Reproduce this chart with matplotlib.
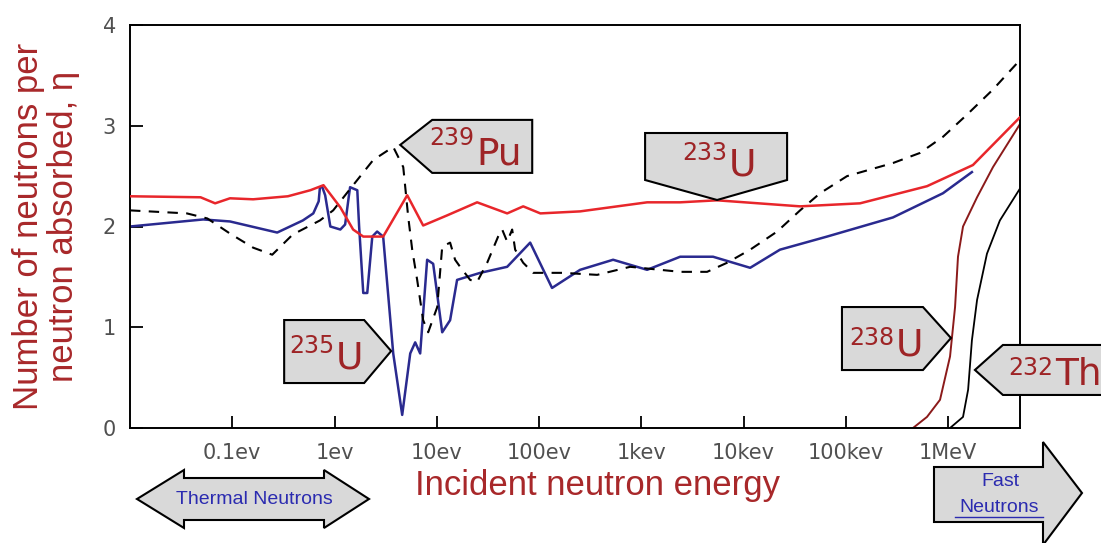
import matplotlib
matplotlib.use('Agg')
import matplotlib.pyplot as plt
from matplotlib.patches import Polygon
from matplotlib.lines import Line2D
from matplotlib.ticker import NullLocator

# energies in eV, eta = neutrons emitted per neutron absorbed
u233_e = [0.01, 0.049, 0.068, 0.095, 0.16, 0.35, 0.58, 0.78, 1.14, 1.52, 1.91, 2.99,
          5.14, 7.36, 12.6, 24.8, 48.8, 70, 103, 252, 1140, 2400, 5500, 35700,
          137700, 622000, 1.75e6, 5.0e6]
u233_eta = [2.30, 2.29, 2.23, 2.28, 2.27, 2.30, 2.36, 2.41, 2.19, 1.97, 1.90, 1.90,
            2.31, 2.01, 2.11, 2.24, 2.13, 2.20, 2.13, 2.15, 2.24, 2.24, 2.26, 2.20,
            2.23, 2.40, 2.61, 3.08]

u235_e = [0.01, 0.052, 0.095, 0.275, 0.49, 0.62, 0.70, 0.72, 0.76, 0.81, 0.91, 1.14,
          1.27, 1.38, 1.42, 1.67, 1.74, 1.91, 2.09, 2.34, 2.61, 2.99, 3.75, 4.59,
          5.50, 6.15, 6.88, 8.05, 9.22, 11.3, 13.5, 15.8, 26.6, 48.8, 81.9, 134,
          252, 530, 1140, 2400, 5030, 11600, 22700, 65500, 289000, 891000, 1.71e6]
u235_eta = [2.00, 2.07, 2.05, 1.94, 2.06, 2.13, 2.25, 2.39, 2.39, 2.31, 2.00, 1.97,
            2.02, 2.30, 2.39, 2.36, 2.00, 1.34, 1.34, 1.90, 1.95, 1.90, 0.74, 0.13,
            0.74, 0.85, 0.74, 1.67, 1.63, 0.95, 1.07, 1.47, 1.54, 1.60, 1.84, 1.39,
            1.57, 1.67, 1.57, 1.70, 1.70, 1.59, 1.77, 1.90, 2.09, 2.33, 2.54]

pu239_e = [0.01, 0.036, 0.057, 0.095, 0.16, 0.246, 0.39, 0.72, 0.97, 1.52, 2.39, 3.75,
           4.70, 5.25, 5.75, 6.43, 7.36, 8.24, 10.1, 11.3, 13.5, 15.1, 16.9, 21.2,
           24.8, 31.1, 39.8, 43.6, 48.8, 54.6, 58.4, 70, 87.6, 172, 370, 778, 2400,
           4400, 6900, 11600, 21300, 35700, 56000, 102800, 289000, 531000, 891000,
           1.53e6, 2.75e6, 4.72e6]
pu239_eta = [2.16, 2.13, 2.08, 1.93, 1.79, 1.72, 1.92, 2.06, 2.16, 2.41, 2.66, 2.79,
             2.59, 2.10, 1.77, 1.47, 1.07, 0.95, 1.20, 1.80, 1.84, 1.67, 1.60, 1.47,
             1.45, 1.64, 1.90, 1.97, 1.85, 1.97, 1.77, 1.64, 1.54, 1.54, 1.52, 1.60,
             1.55, 1.55, 1.64, 1.77, 1.95, 2.16, 2.33, 2.50, 2.63, 2.73, 2.89, 3.11,
             3.36, 3.62]

u238_e = [4.54e5, 6.22e5, 8.34e5, 1.045e6, 1.17e6, 1.25e6, 1.40e6, 1.92e6, 2.75e6, 5.0e6]
u238_eta = [0.0, 0.11, 0.28, 0.71, 1.20, 1.70, 2.00, 2.29, 2.59, 3.01]

th232_e = [1.045e6, 1.40e6, 1.57e6, 1.71e6, 1.92e6, 2.40e6, 3.21e6, 5.0e6]
th232_eta = [0.0, 0.11, 0.38, 0.87, 1.27, 1.73, 2.06, 2.37]

tick_e = [0.1, 1, 10, 100, 1e3, 1e4, 1e5, 1e6]
tick_labels = ['0.1ev', '1ev', '10ev', '100ev', '1kev', '10kev', '100kev', '1MeV']

W, H = 1101, 543
label_red = '#a8282a'
box_red = '#9e2426'
blue_txt = '#2b2bb0'
gray = '#d9d9d9'

fig = plt.figure(figsize=(W / 100, H / 100), dpi=100)
ax = fig.add_axes([130 / W, 1 - 428 / H, 890 / W, 403 / H])

ax.plot(u233_e, u233_eta, color='#e8262b', lw=1.8, zorder=3)
ax.plot(u235_e, u235_eta, color='#2a2a8f', lw=1.8, zorder=2)
ax.plot(pu239_e, pu239_eta, color='black', lw=1.5, dashes=(5, 4), zorder=2)
ax.plot(u238_e, u238_eta, color='#8b1a1a', lw=1.4, zorder=2)
ax.plot(th232_e, th232_eta, color='black', lw=1.3, zorder=2)

ax.set_xscale('log')
ax.set_xlim(0.01, 5.05e6)
ax.set_ylim(0, 4)
ax.set_xticks(tick_e)
ax.set_xticklabels(tick_labels)
ax.xaxis.set_minor_locator(NullLocator())
ax.set_yticks([0, 1, 2, 3, 4])
ax.tick_params(direction='in', length=9, width=1.3, labelsize=15,
               labelcolor='#505050', labelfontfamily='DejaVu Sans')
ax.tick_params(axis='x', pad=11)
ax.tick_params(axis='y', pad=10)
for s in ax.spines.values():
    s.set_linewidth(1.4)

ax.set_ylabel('Number of neutrons per\nneutron absorbed, η', color=label_red,
              fontsize=25, family='Liberation Sans', linespacing=1.1)
ax.yaxis.set_label_coords(-0.056, 0.5)
ax.set_xlabel('Incident neutron energy', color=label_red, fontsize=25,
              family='Liberation Sans')
ax.xaxis.set_label_coords(0.525, -0.102)


def px(x, y):
    # image pixel (y down) -> figure fraction
    return (x / W, 1 - y / H)


def callout(e, eta, shape, sup, sym, sup_dx, sup_dy, sym_dy, size=27, sup_size=17):
    # shape: pixel offsets from the tip (x right, y down)
    tx, ty = ax.transData.transform((e, eta))
    ty = H - ty
    pts = [px(tx + dx, ty + dy) for dx, dy in shape]
    fig.add_artist(Polygon(pts, closed=True, fc=gray, ec='black', lw=1.5,
                           transform=fig.transFigure, zorder=5))
    fig.text(*px(tx + sup_dx, ty + sup_dy), sup, ha='right', va='baseline',
             fontsize=sup_size, color=box_red, family='DejaVu Sans', zorder=6)
    fig.text(*px(tx + sup_dx + 2, ty + sym_dy), sym, ha='left', va='baseline',
             fontsize=size, color=box_red, family='DejaVu Sans', zorder=6)


callout(4.39, 2.81, [(0, 0), (32, -25), (132, -25), (132, 28), (32, 28)],
        '239', 'Pu', 74, 0, 20)
callout(3.58, 0.764, [(0, 0), (-27, -31), (-107, -31), (-107, 32), (-27, 32)],
        '235', 'U', -57, 2, 17)
callout(5510, 2.263, [(0, 0), (70, -20), (70, -67), (-72, -67), (-72, -20)],
        '233', 'U', 10, -40, -25)
callout(1.067e6, 0.893, [(0, 0), (-28, -31), (-109, -31), (-109, 32), (-28, 32)],
        '238', 'U', -57, 7, 17)
callout(1.83e6, 0.576, [(0, 0), (28, -25), (150, -25), (150, 25), (28, 25)],
        '232', 'Th', 78, 5, 15)

# thermal / fast neutron arrows below the axis
thermal = [(137, 499), (184, 470), (184, 478), (324, 478), (324, 470), (369, 499),
           (324, 528), (324, 520), (184, 520), (184, 528)]
fig.add_artist(Polygon([px(x, y) for x, y in thermal], closed=True, fc=gray,
                       ec='black', lw=1.5, transform=fig.transFigure))
fig.text(*px(254, 499), 'Thermal Neutrons', ha='center', va='center', fontsize=14,
         color=blue_txt, family='Liberation Sans')

fast = [(934, 467), (1043, 467), (1043, 442), (1082, 493), (1043, 545),
        (1043, 522), (934, 522)]
fig.add_artist(Polygon([px(x, y) for x, y in fast], closed=True, fc=gray,
                       ec='black', lw=1.5, transform=fig.transFigure))
fig.text(*px(1000, 482), 'Fast', ha='center', va='center', fontsize=14,
         color=blue_txt, family='Liberation Sans')
fig.text(*px(999, 507), 'Neutrons', ha='center', va='center', fontsize=14,
         color=blue_txt, family='Liberation Sans')
ux0, uy = px(955, 517)
ux1, _ = px(1043, 517)
fig.add_artist(Line2D([ux0, ux1], [uy, uy], color=blue_txt, lw=1.0,
                      transform=fig.transFigure))

fig.savefig('out.png', dpi=100)
